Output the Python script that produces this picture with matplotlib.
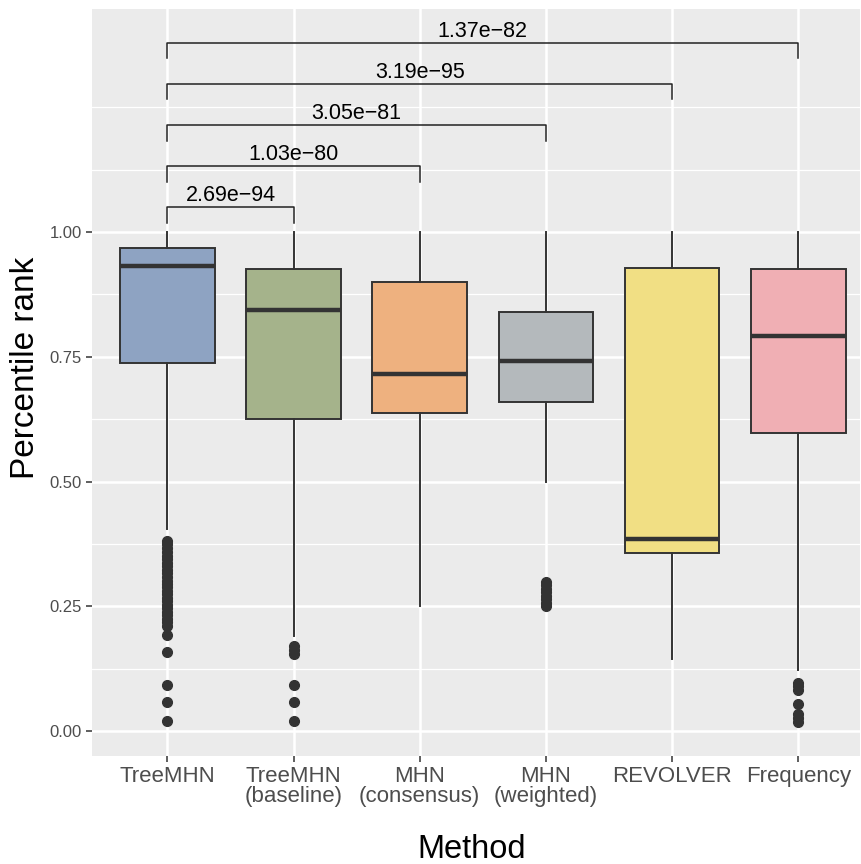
import numpy as np
import matplotlib
matplotlib.use("Agg")
import matplotlib.pyplot as plt

plt.rcParams['font.family'] = ['Liberation Sans', 'DejaVu Sans']

# box statistics
methods = ['TreeMHN', 'TreeMHN\n(baseline)', 'MHN\n(consensus)', 'MHN\n(weighted)', 'REVOLVER', 'Frequency']
whislo = [0.404, 0.190, 0.250, 0.500, 0.144, 0.122]
q1 = [0.738, 0.626, 0.638, 0.660, 0.357, 0.597]
med = [0.932, 0.844, 0.715, 0.741, 0.385, 0.791]
q3 = [0.968, 0.925, 0.899, 0.840, 0.927, 0.926]
whishi = [1.0, 1.0, 1.0, 1.0, 1.0, 1.0]

fliers_treemhn = [0.381, 0.374, 0.367, 0.358, 0.351, 0.344, 0.337, 0.330, 0.323, 0.316,
                  0.309, 0.301, 0.295, 0.288, 0.281, 0.274, 0.267, 0.260, 0.253, 0.246,
                  0.239, 0.232, 0.225, 0.218, 0.211, 0.192, 0.158, 0.092, 0.058, 0.020]
fliers_baseline = [0.170, 0.162, 0.155, 0.092, 0.058, 0.020]
fliers_consensus = []
fliers_weighted = [0.299, 0.292, 0.285, 0.278, 0.271, 0.264, 0.257, 0.250]
fliers_revolver = []
fliers_frequency = [0.097, 0.090, 0.083, 0.054, 0.034, 0.026, 0.018]
fliers = [fliers_treemhn, fliers_baseline, fliers_consensus,
          fliers_weighted, fliers_revolver, fliers_frequency]

colors = ['#8EA3C2', '#A5B38B', '#EEB17F', '#B4B9BC', '#F1DF84', '#F0AFB4']

# pairwise comparisons against TreeMHN
pair_to = [2, 3, 4, 5, 6]
pair_y = [1.0495, 1.132, 1.214, 1.297, 1.379]
pair_labels = ['2.69e\u221294', '1.03e\u221280', '3.05e\u221281', '3.19e\u221295', '1.37e\u221282']

fig = plt.figure(figsize=(8.62, 8.64), dpi=100)
ax = fig.add_axes([0.1064, 0.125, 0.8913, 0.8646])
ax.set_facecolor('#EBEBEB')
for s in ax.spines.values():
    s.set_visible(False)

pos = np.arange(1, len(methods) + 1)
stats = []
for i in range(len(methods)):
    stats.append(dict(whislo=whislo[i], q1=q1[i], med=med[i], q3=q3[i],
                      whishi=whishi[i], fliers=fliers[i]))

dark = '#333333'
bp = ax.bxp(stats, positions=pos, widths=0.75, patch_artist=True, showcaps=False,
            boxprops=dict(edgecolor=dark, linewidth=1.4),
            whiskerprops=dict(color=dark, linewidth=1.4),
            medianprops=dict(color=dark, linewidth=3.2, solid_capstyle='butt'),
            flierprops=dict(marker='o', markerfacecolor=dark, markeredgecolor=dark,
                            markersize=7, linestyle='none'),
            zorder=3)
for patch, c in zip(bp['boxes'], colors):
    patch.set_facecolor(c)

# brackets
tip = 0.031
for j, y in zip(pair_to, pair_y):
    ax.plot([1, 1, j, j], [y - tip, y, y, y - tip], color='#222222', lw=1.1, zorder=4)
for j, y, lab in zip(pair_to, pair_y, pair_labels):
    ax.text((1 + j) / 2, y + 0.012, lab, ha='center', va='baseline', fontsize=15.5,
            color='black', zorder=5)

ax.set_xlim(0.4, 6.49)
ax.set_ylim(-0.05, 1.447)

ax.set_yticks([0, 0.25, 0.5, 0.75, 1.0])
ax.set_yticklabels(['0.00', '0.25', '0.50', '0.75', '1.00'])
ax.set_yticks([0.125, 0.375, 0.625, 0.875, 1.125, 1.25], minor=True)
ax.set_xticks(pos)
ax.set_xticklabels(methods, linespacing=0.95)

ax.grid(True, which='major', color='white', linewidth=1.8, zorder=0)
ax.grid(True, which='minor', axis='y', color='white', linewidth=0.9, zorder=0)
ax.set_axisbelow(True)

ax.tick_params(axis='both', which='major', color=dark, length=4, width=1.1)
ax.tick_params(axis='y', which='major', labelsize=12, labelcolor='#4D4D4D', pad=3)
ax.tick_params(axis='x', which='major', labelsize=16, labelcolor='#4D4D4D', pad=3)
ax.tick_params(axis='y', which='minor', length=0)

fig.text(26 / 862, 1 - 368 / 864, 'Percentile rank', rotation=90, ha='center', va='center',
         fontsize=24)
fig.text(472 / 862, 1 - 850 / 864, 'Method', ha='center', va='center', fontsize=23.5)

fig.savefig('out.png', dpi=100)
